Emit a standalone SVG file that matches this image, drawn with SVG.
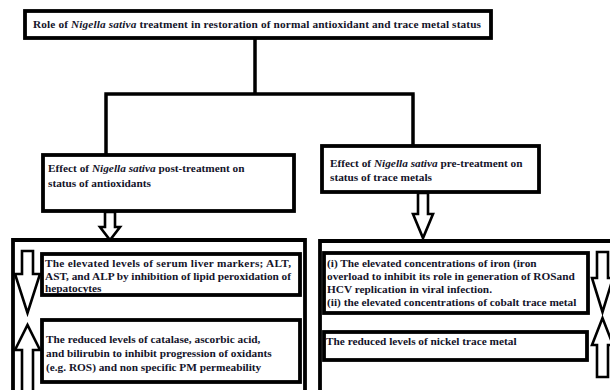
<svg xmlns="http://www.w3.org/2000/svg" width="610" height="390" viewBox="0 0 610 390">
<style>
.box{fill:#fff;stroke:#000;stroke-width:3.8}
.arr{fill:#fff;stroke:#000;stroke-width:2.6;stroke-linejoin:miter}
.con{fill:none;stroke:#000;stroke-width:3.5}
text{font-family:"Liberation Serif","Times New Roman",serif;font-weight:bold;font-size:11.3px;fill:#14142a}
.i{font-style:italic}
</style>
<rect width="610" height="390" fill="#fff"/>
<g id="connectors">
<path class="con" d="M255 38V94M104.3 94H414.7M106 94V155M413 94V146"/>
<path class="arr" d="M105 212V227H100L110 240L120 227H115V212Z"/>
<path class="arr" d="M418 193V214H413L423 238L433 214H428V193Z"/>
</g>
<g id="top">
<rect class="box" x="25" y="11" width="466" height="27"/>
<text x="33" y="28" textLength="448" lengthAdjust="spacing">Role of <tspan class="i">Nigella sativa</tspan> treatment in restoration of normal antioxidant and trace metal status</text>
</g>
<g id="post">
<rect class="box" x="43" y="155" width="251" height="56"/>
<text x="48" y="172">Effect of <tspan class="i">Nigella sativa</tspan> post-treatment on</text>
<text x="48" y="187">status of antioxidants</text>
</g>
<g id="pre">
<rect class="box" x="322" y="146" width="217" height="46"/>
<text x="330" y="167">Effect of <tspan class="i">Nigella sativa</tspan> pre-treatment on</text>
<text x="330" y="181">status of trace metals</text>
</g>
<g id="antioxidants">
<path class="box" d="M13 392V240H305V392"/>
<path class="arr" d="M22 251V274H15L27.5 313L40 274H33V251Z"/>
<path class="arr" d="M22 392V350H15L27.5 325L40 350H33V392Z"/>
<g id="elevated-liver">
<rect class="box" x="42" y="254" width="258" height="41"/>
<text x="45" y="267" textLength="246" lengthAdjust="spacing">The elevated levels of serum liver markers; ALT,</text>
<text x="45" y="280" textLength="246" lengthAdjust="spacing">AST, and ALP by inhibition of lipid peroxidation of</text>
<text x="45" y="292">hepatocytes</text>
</g>
<g id="reduced-catalase">
<rect class="box" x="42" y="320" width="258" height="62"/>
<text x="46" y="343">The reduced levels of catalase, ascorbic acid,</text>
<text x="46" y="357">and bilirubin to inhibit progression of oxidants</text>
<text x="46" y="371">(e.g. ROS) and non specific PM permeability</text>
</g>
</g>
<g id="trace-metals">
<path class="box" d="M320 392V241H615"/>
<path class="arr" d="M597 252V278H592L602.5 312L613 278H608V252Z"/>
<path class="arr" d="M597 377V345H592L602.5 318L613 345H608V377Z"/>
<g id="elevated-iron">
<rect class="box" x="324" y="253" width="264" height="60"/>
<text x="327" y="267">(i) The elevated concentrations of iron (iron</text>
<text x="327" y="280">overload to inhibit its role in generation of ROSand</text>
<text x="327" y="293">HCV replication in viral infection.</text>
<text x="327" y="306">(ii) the elevated concentrations of cobalt trace metal</text>
</g>
<g id="reduced-nickel">
<rect class="box" x="324" y="332" width="263" height="28"/>
<text x="326" y="345">The reduced levels of nickel trace metal</text>
</g>
</g>
</svg>
